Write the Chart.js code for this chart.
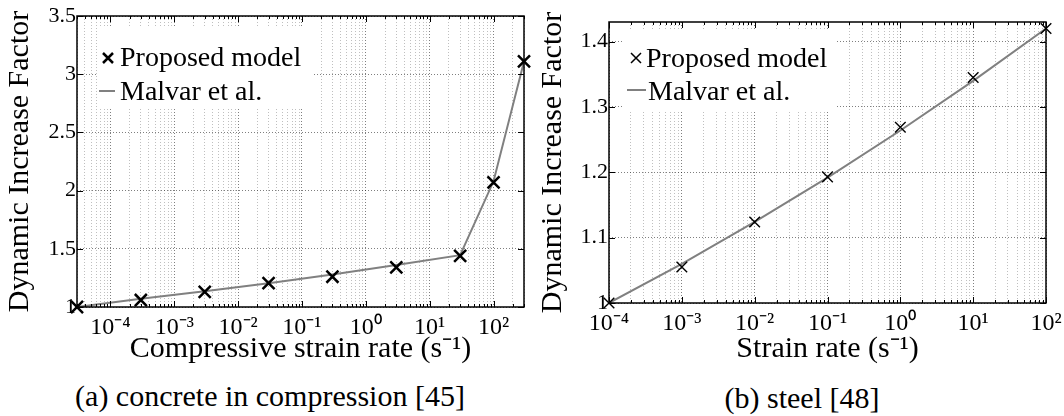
<!DOCTYPE html>
<html lang="en">
<head>
<meta charset="UTF-8">
<title>Dynamic Increase Factor</title>
<script src="https://cdn.jsdelivr.net/npm/chart.js@4"></script>
<style>
  body { margin: 0; background: #fff; }
  #wrap { position: relative; width: 1064px; height: 416px; }
  .pane { position: absolute; top: 0; }
  .caption {
    position: absolute;
    font-family: 'Liberation Serif', serif;
    font-size: 30px;
    text-align: center;
    color: #000;
    line-height: 34px;
  }
</style>
</head>
<body>
<div id="wrap">
  <div class="pane" style="left:0"><canvas id="chartA" width="535" height="370"></canvas></div>
  <div class="pane" style="left:535px"><canvas id="chartB" width="529" height="370"></canvas></div>
  <div class="caption" style="left:0;width:540px;top:379px">(a) concrete in compression [45]</div>
  <div class="caption" style="left:535px;width:534px;top:381px">(b) steel [48]</div>
</div>
<script>
// (a) concrete in compression
var ratesA = [3e-5, 3e-4, 3e-3, 3e-2, 0.3, 3, 30, 100, 300];
var modelA = [1.0, 1.06, 1.13, 1.205, 1.26, 1.34, 1.44, 2.07, 3.11];
var malvarA = [1.0, 1.07, 1.135, 1.205, 1.28, 1.36, 1.445, 2.08, 3.11];
var yTicksA = [1, 1.5, 2, 2.5, 3, 3.5];

// (b) steel
var ratesB = [1e-4, 1e-3, 1e-2, 1e-1, 1, 10, 100];
var modelB = [1.0, 1.055, 1.124, 1.193, 1.269, 1.345, 1.42];
var malvarB = [1.0, 1.06, 1.124, 1.192, 1.264, 1.34, 1.42];
var yTicksB = [1, 1.1, 1.2, 1.3, 1.4];

// decade tick labels (shared)
var xTickValues = [1e-4, 1e-3, 1e-2, 1e-1, 1, 10, 100];
var xTickLabels = ['10⁻⁴', '10⁻³', '10⁻²', '10⁻¹', '10⁰', '10¹', '10²'];

var FONT = 'Liberation Serif';
Chart.defaults.font.family = FONT;
Chart.defaults.color = '#000';

function isDecade(v) {
    var l = Math.log10(v);
    return Math.abs(l - Math.round(l)) < 1e-6;
}

function points(xs, ys) {
    return xs.map(function (x, i) { return {x: x, y: ys[i]}; });
}

// box round the plot + inward tick marks, like matlab
var framePlugin = {
    id: 'frame',
    afterDatasetsDraw: function (chart) {
        var ctx = chart.ctx, a = chart.chartArea;
        var x = chart.scales.x, y = chart.scales.y;
        ctx.save();
        ctx.strokeStyle = '#000';
        ctx.lineWidth = 1;
        ctx.beginPath();
        x.ticks.forEach(function (t) {
            var px = Math.round(x.getPixelForValue(t.value)) + 0.5;
            var len = isDecade(t.value) ? 6 : 3;
            ctx.moveTo(px, a.bottom); ctx.lineTo(px, a.bottom - len);
            ctx.moveTo(px, a.top); ctx.lineTo(px, a.top + len);
        });
        y.ticks.forEach(function (t) {
            var py = Math.round(y.getPixelForValue(t.value)) + 0.5;
            ctx.moveTo(a.left, py); ctx.lineTo(a.left + 6, py);
            ctx.moveTo(a.right, py); ctx.lineTo(a.right - 6, py);
        });
        ctx.stroke();
        ctx.lineWidth = 1.5;
        ctx.strokeRect(a.left, a.top, a.right - a.left, a.bottom - a.top);
        ctx.restore();
    }
};

// legend inside the axes with a white patch behind it
var boxLegend = {
    id: 'boxLegend',
    afterDatasetsDraw: function (chart, args, o) {
        var ctx = chart.ctx;
        var ds = chart.data.datasets;
        ctx.save();
        ctx.fillStyle = '#fff';
        ctx.fillRect(o.box[0], o.box[1], o.box[2], o.box[3]);

        var r = o.markSize / 2;
        ctx.strokeStyle = '#000';
        ctx.lineWidth = o.markWidth;
        ctx.beginPath();
        ctx.moveTo(o.markX - r, o.markY - r); ctx.lineTo(o.markX + r, o.markY + r);
        ctx.moveTo(o.markX - r, o.markY + r); ctx.lineTo(o.markX + r, o.markY - r);
        ctx.stroke();

        ctx.strokeStyle = ds[1].borderColor;
        ctx.lineWidth = 2;
        ctx.beginPath();
        ctx.moveTo(o.lineX[0], o.lineY); ctx.lineTo(o.lineX[1], o.lineY);
        ctx.stroke();

        ctx.fillStyle = '#000';
        ctx.font = o.fontSize + 'px "' + FONT + '"';
        ctx.textBaseline = 'alphabetic';
        ctx.fillText(ds[0].label, o.text1[0], o.text1[1]);
        ctx.fillText(ds[1].label, o.text2[0], o.text2[1]);
        ctx.restore();
    }
};

function makeChart(id, cfg) {
    var ctx = document.getElementById(id).getContext('2d');
    return new Chart(ctx, {
        type: 'scatter',
        data: {
            datasets: [{
                label: 'Proposed model',
                data: points(cfg.rates, cfg.model),
                showLine: false,
                pointStyle: 'crossRot',
                pointRadius: cfg.markRadius,
                pointBorderWidth: cfg.markWidth,
                pointHoverRadius: cfg.markRadius,
                borderColor: '#000',
                backgroundColor: '#000',
                clip: false
            }, {
                label: 'Malvar et al.',
                data: points(cfg.rates, cfg.malvar),
                showLine: true,
                borderColor: '#808080',
                borderWidth: 2,
                pointRadius: 0,
                tension: 0
            }]
        },
        options: {
            responsive: false,
            animation: false,
            events: [],
            layout: { padding: cfg.padding },
            plugins: {
                legend: { display: false },
                tooltip: { enabled: false },
                boxLegend: cfg.legend
            },
            scales: {
                x: {
                    type: 'logarithmic',
                    min: cfg.xMin,
                    max: cfg.xMax,
                    afterBuildTicks: function (scale) {
                        var ticks = [];
                        for (var e = -6; e <= 3; e++) {
                            for (var k = 1; k <= 9; k++) {
                                var v = k * Math.pow(10, e);
                                if (v >= scale.min * 0.999 && v <= scale.max * 1.001) ticks.push({value: v});
                            }
                        }
                        scale.ticks = ticks;
                    },
                    afterFit: function (scale) {
                        scale.height = cfg.xHeight;
                        scale.paddingLeft = 0;
                        scale.paddingRight = 0;
                    },
                    grid: {
                        drawTicks: false,
                        lineWidth: 1,
                        color: function (c) {
                            if (!c.tick) return 'rgba(0,0,0,0.25)';
                            return isDecade(c.tick.value) ? 'rgba(0,0,0,0.5)' : 'rgba(0,0,0,0.25)';
                        }
                    },
                    border: { display: false, dash: [1, 2] },
                    ticks: {
                        autoSkip: false,
                        maxRotation: 0,
                        padding: 6,
                        color: '#000',
                        font: { size: 24 },
                        callback: function (v) {
                            for (var i = 0; i < xTickValues.length; i++) {
                                if (Math.abs(Math.log10(xTickValues[i]) - Math.log10(v)) < 1e-6) return xTickLabels[i];
                            }
                            return '';
                        }
                    },
                    title: {
                        display: true,
                        text: cfg.xTitle,
                        color: '#000',
                        font: { size: 30 },
                        padding: { top: 0, bottom: 3 }
                    }
                },
                y: {
                    type: 'linear',
                    min: cfg.yMin,
                    max: cfg.yMax,
                    afterBuildTicks: function (scale) {
                        scale.ticks = cfg.yTicks.map(function (v) { return {value: v}; });
                    },
                    afterFit: function (scale) {
                        scale.width = cfg.yWidth;
                        scale.paddingTop = 0;
                        scale.paddingBottom = 0;
                    },
                    grid: { drawTicks: false, lineWidth: 1, color: 'rgba(0,0,0,0.5)' },
                    border: { display: false, dash: [1, 2] },
                    ticks: {
                        padding: 1,
                        color: '#000',
                        font: { size: 22 },
                        callback: function (v) { return String(v); }
                    },
                    title: {
                        display: true,
                        text: 'Dynamic Increase Factor',
                        color: '#000',
                        font: { size: 30 },
                        padding: { top: cfg.yTitlePad, bottom: 0 }
                    }
                }
            }
        },
        plugins: [framePlugin, boxLegend]
    });
}

makeChart('chartA', {
    rates: ratesA, model: modelA, malvar: malvarA, yTicks: yTicksA,
    xMin: 3e-5, xMax: 300, yMin: 1, yMax: 3.5,
    xTitle: 'Compressive strain rate (s⁻¹)',
    padding: { top: 16, right: 6, bottom: 0, left: 0 },
    xHeight: 63, yWidth: 77, yTitlePad: 2,
    markRadius: 8.5, markWidth: 2.5,
    legend: {
        box: [97, 28, 215, 80],
        markX: 108, markY: 58, markSize: 10, markWidth: 2.5,
        lineX: [99, 115], lineY: 91,
        text1: [120, 66], text2: [120, 100],
        fontSize: 28
    }
});

makeChart('chartB', {
    rates: ratesB, model: modelB, malvar: malvarB, yTicks: yTicksB,
    xMin: 1e-4, xMax: 100, yMin: 1, yMax: 1.43,
    xTitle: 'Strain rate (s⁻¹)',
    padding: { top: 22, right: 18, bottom: 0, left: 0 },
    xHeight: 67, yWidth: 74, yTitlePad: 0,
    markRadius: 7.5, markWidth: 1.4,
    legend: {
        box: [88, 31, 212, 81],
        markX: 101, markY: 58, markSize: 10, markWidth: 1.5,
        lineX: [92, 111], lineY: 90,
        text1: [111, 67], text2: [113, 100],
        fontSize: 28
    }
});
</script>
</body>
</html>
